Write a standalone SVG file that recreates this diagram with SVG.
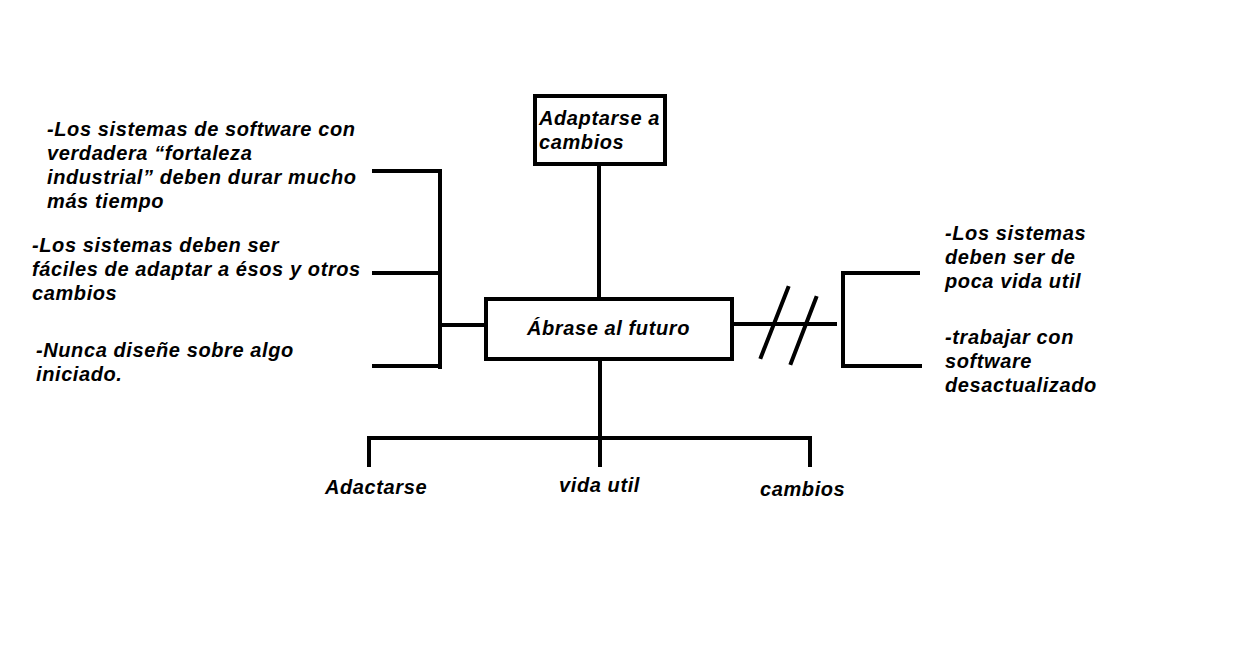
<svg xmlns="http://www.w3.org/2000/svg" width="1244" height="661" viewBox="0 0 1244 661">
<style>
text{font-family:"Liberation Sans",Arial,sans-serif;font-weight:bold;font-style:italic;font-size:20px;letter-spacing:0.6px;fill:#000}
.ln{stroke:#000;stroke-width:4;fill:none;stroke-linecap:square}
.box{stroke:#000;stroke-width:4;fill:#fff}
</style>
<rect width="1244" height="661" fill="#fff"/>
<g id="connectors">
<path class="ln" d="M599 165V298"/>
<path class="ln" d="M600 360V438M369 438H810M369 438V465M600 438V465M810 438V465"/>
<path class="ln" d="M374 171H440V367M374 273H440M374 366H440M440 325H485"/>
<path class="ln" d="M734 324H835M761 357L788 288M791 363L816 298M843 273V366M843 273H918M843 366H920"/>
</g>
<g id="node-adaptarse">
<rect class="box" x="535" y="96" width="130" height="68"/>
<text x="539" y="125">Adaptarse a</text>
<text x="539" y="149">cambios</text>
</g>
<g id="node-abrase">
<rect class="box" x="486" y="299" width="246" height="60"/>
<text x="527" y="335">Ábrase al futuro</text>
</g>
<g id="node-left-1">
<text x="47" y="136">-Los sistemas de software con</text>
<text x="47" y="160">verdadera “fortaleza</text>
<text x="47" y="184">industrial” deben durar mucho</text>
<text x="47" y="208">más tiempo</text>
</g>
<g id="node-left-2">
<text x="32" y="252">-Los sistemas deben ser</text>
<text x="32" y="276">fáciles de adaptar a ésos y otros</text>
<text x="32" y="300">cambios</text>
</g>
<g id="node-left-3">
<text x="36" y="357">-Nunca diseñe sobre algo</text>
<text x="36" y="381">iniciado.</text>
</g>
<g id="node-right-1">
<text x="945" y="240">-Los sistemas</text>
<text x="945" y="264">deben ser de</text>
<text x="945" y="288">poca vida util</text>
</g>
<g id="node-right-2">
<text x="945" y="344">-trabajar con</text>
<text x="945" y="368">software</text>
<text x="945" y="392">desactualizado</text>
</g>
<g id="node-adactarse"><text x="325" y="494">Adactarse</text></g>
<g id="node-vida"><text x="559" y="492">vida util</text></g>
<g id="node-cambios"><text x="760" y="496">cambios</text></g>
</svg>
